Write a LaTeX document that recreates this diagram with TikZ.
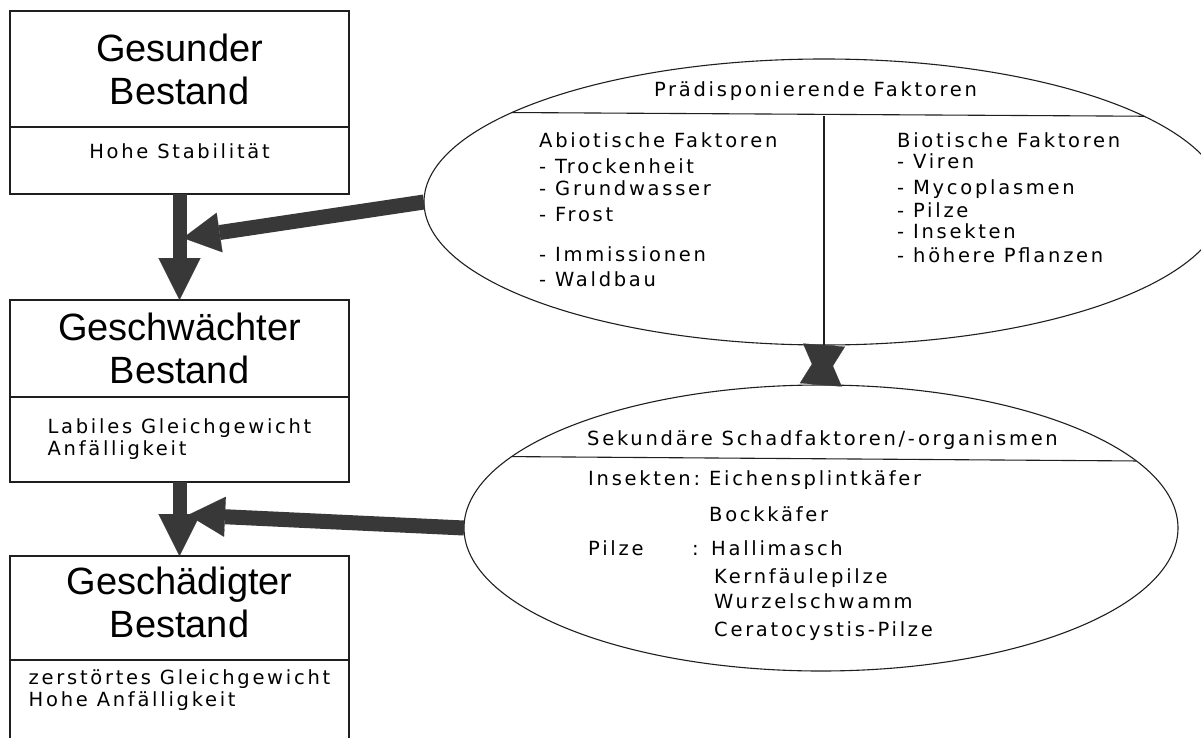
\documentclass[tikz,border=0pt]{standalone}
\usepackage{fontspec}
\setmainfont{Liberation Sans}
\newfontfamily\titlefont{Liberation Sans}
\newfontfamily\infofont[LetterSpace=14]{DejaVu Sans}
\usetikzlibrary{positioning,shapes.geometric,arrows.meta}
\definecolor{arrowgray}{gray}{0.22}
\definecolor{inkgray}{gray}{0.12}

\begin{document}
\begin{tikzpicture}[x=1pt,y=-1pt,
  box/.style={draw=inkgray, line width=1.1pt, minimum width=339pt, inner sep=0pt, outer sep=0pt},
  titlebox/.style={box, align=center, font=\titlefont\fontsize{38}{43}\selectfont},
  infobox/.style={box, align=left, font=\infofont\fontsize{19.5}{22}\selectfont},
  blob/.style={ellipse, draw=inkgray, line width=1.1pt, inner sep=0pt, outer sep=0pt},
  line/.style={draw=inkgray, line width=1.1pt},
  item/.style={font=\infofont\fontsize{19.5}{22}\selectfont, inner sep=0pt, anchor=base west},
  bigarrow/.style={draw=arrowgray, line width=14pt, -{Triangle[length=42pt,width=42pt,line width=0.1pt]}},
  sidearrow/.style={draw=arrowgray, line width=15pt, -{Triangle[length=37pt,width=40pt,line width=0.1pt]}},
  xlink/.style={draw=arrowgray, line width=2pt, {Triangle[length=40pt,width=42pt,line width=0.1pt]}-{Triangle[length=40pt,width=42pt,line width=0.1pt]}}]
\useasboundingbox (0,0) rectangle (1201,738);
\clip (0,0) rectangle (1201,738);
\fill[white] (0,0) rectangle (1201,738);

\node[titlebox, minimum height=116pt] (gesund) at (179.5,69) {Gesunder\\Bestand};
\node[infobox, align=center, minimum height=67pt, text depth=19pt, below=0pt of gesund] (gesund-info) {Hohe Stabilität};

\node[titlebox, minimum height=97pt] (geschw) at (179.5,348.5) {Geschwächter\\Bestand};
\node[infobox, minimum height=85pt, below=0pt of geschw] (geschw-info) {Labiles Gleichgewicht\\Anfälligkeit};

\node[titlebox, minimum height=104pt, text depth=12pt] (geschaed) at (179.5,608) {Geschädigter\\Bestand};
\node[infobox, draw=none, minimum height=60pt, below=0pt of geschaed] (geschaed-info) {zerstörtes Gleichgewicht\\Hohe Anfälligkeit};
\draw[line] (geschaed.south west) -- ++(0,120);
\draw[line] (geschaed.south east) -- ++(0,120);

\node[blob, minimum width=800pt, minimum height=286pt] (praedisp) at (824,202) {};
\draw[line] (praedisp.164.94) -- (praedisp.15.06);
\draw[line] (praedisp.south) -- (praedisp.south |- praedisp.15.06);
\node[item, anchor=base] (praedisp-title) at (815.5,97) {Prädisponierende Faktoren};

\node[item] (abio) at (539,148) {Abiotische Faktoren};
\node[item] (abio-1) at (539,174) {- Trockenheit};
\node[item] (abio-2) at (539,195) {- Grundwasser};
\node[item] (abio-3) at (539,222) {- Frost};
\node[item] (abio-4) at (539,261) {- Immissionen};
\node[item] (abio-5) at (539,286) {- Waldbau};

\node[item] (bio) at (897,148) {Biotische Faktoren};
\node[item] (bio-1) at (897,168) {- Viren};
\node[item] (bio-2) at (897,194) {- Mycoplasmen};
\node[item] (bio-3) at (897,217) {- Pilze};
\node[item] (bio-4) at (897,238) {- Insekten};
\node[item] (bio-5) at (897,262) {- höhere Pflanzen};

\node[blob, minimum width=714pt, minimum height=286pt] (sekund) at (821,528) {};
\draw[line] (sekund.167.56) -- (sekund.12.44);
\node[item] (sekund-title) at (587,445) {Sekundäre Schadfaktoren/-organismen};

\node[item] (ins) at (588,485) {Insekten:};
\node[item] (ins-1) at (709,485) {Eichensplintkäfer};
\node[item] (ins-2) at (709,521) {Bockkäfer};
\node[item] (pilz) at (588,555) {Pilze};
\node[item] (pilz-colon) at (692,555) {:};
\node[item] (pilz-1) at (711,555) {Hallimasch};
\node[item] (pilz-2) at (714,583) {Kernfäulepilze};
\node[item] (pilz-3) at (714,608) {Wurzelschwamm};
\node[item] (pilz-4) at (714,636) {Ceratocystis-Pilze};

\coordinate (hit1) at (183,238);
\coordinate (hit2) at (188,515);
\draw[bigarrow] (gesund-info.south) -- (geschw.north);
\draw[bigarrow] (geschw-info.south) -- (geschaed.north);
\draw[sidearrow] (praedisp.west) -- (hit1);
\draw[sidearrow] (sekund.west) -- (hit2);
\draw[xlink] (praedisp.south) -- (sekund.north);
\end{tikzpicture}
\end{document}
